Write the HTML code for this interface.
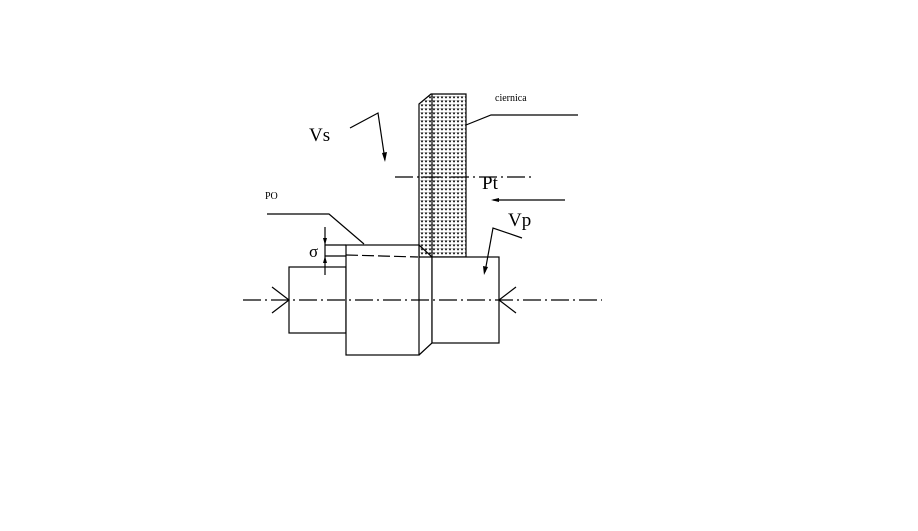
<!DOCTYPE html>
<html><head><meta charset="utf-8"><style>html,body{margin:0;padding:0;background:#fff;}</style></head>
<body>
<svg width="918" height="531" viewBox="0 0 918 531" xmlns="http://www.w3.org/2000/svg" style="display:block">
<defs>
<pattern id="d" width="4" height="4" patternUnits="userSpaceOnUse">
<path d="M0.5 0.5 L3.5 0.5 L2 2.8 Z" fill="#000"/>
</pattern>
</defs>
<rect width="918" height="531" fill="#fff"/>
<g stroke="#000" stroke-width="1.2" fill="none">
<path d="M419 104 L431 94 L466 94 L466 257 L419 257 Z" fill="url(#d)"/>
<line x1="432" y1="94" x2="432" y2="257"/>
<line x1="395" y1="177" x2="535" y2="177" stroke-dasharray="18,4,2,4"/>
<rect x="289" y="267" width="57" height="66" fill="#fff"/>
<rect x="346" y="245" width="73" height="110" fill="#fff"/>
<path d="M419 245 L432 257 L432 343 L419 355"/>
<rect x="432" y="257" width="67" height="86" fill="#fff"/>
<line x1="346" y1="255" x2="418" y2="257" stroke-dasharray="12,4"/>
<line x1="243" y1="300" x2="602" y2="300" stroke-dasharray="18,4,2,4"/>
<path d="M272 287 L289 300 L272 313"/>
<path d="M516 287 L499 300 L516 313"/>
<line x1="325" y1="245" x2="346" y2="245"/>
<line x1="325" y1="256" x2="346" y2="256"/>
<line x1="325" y1="227" x2="325" y2="275"/>
<path d="M267 214 L329 214 L364 244"/>
<path d="M466 125 L491 115 L578 115"/>
<path d="M350 128 L378 113 L385 160"/>
<path d="M565 200 L493 200"/>
<path d="M522 238 L493 228 L485 272"/>
</g>
<g fill="#000">
<path d="M323 238 L327 238 L325 245 Z"/>
<path d="M323 263 L327 263 L325 256 Z"/>
<path d="M382 153 L387 152 L385 162 Z"/>
<path d="M491 200 L499 198 L499 202 Z"/>
<path d="M483 266 L488 267 L484 275 Z"/>
</g>
<g font-family="Liberation Serif, serif" fill="#000">
<text x="495" y="101" font-size="10">ciernica</text>
<text x="265" y="199" font-size="10">PO</text>
<text x="309" y="141" font-size="19">Vs</text>
<text x="482" y="189" font-size="19">Pt</text>
<text x="508" y="226" font-size="19">Vp</text>
<text x="309" y="257" font-size="17">σ</text>
</g>
</svg>
</body></html>
